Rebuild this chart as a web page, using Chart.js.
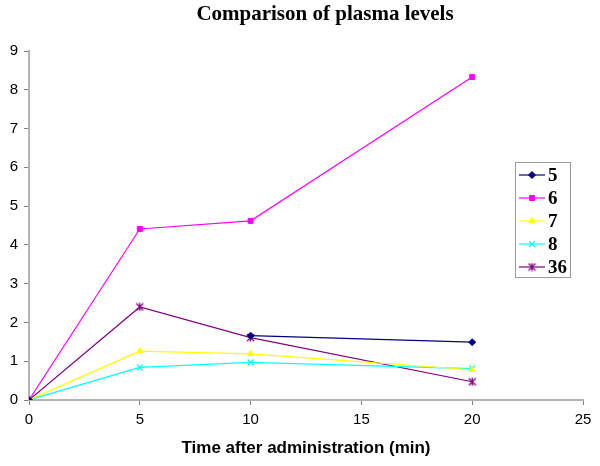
<!DOCTYPE html>
<html>
<head>
<meta charset="utf-8">
<script src="https://cdn.jsdelivr.net/npm/chart.js@4/dist/chart.umd.min.js"></script>
<style>
html,body{margin:0;padding:0;background:#fff;}
#wrap{width:600px;height:466px;position:relative;}
</style>
</head>
<body>
<div id="wrap"><canvas id="c" width="600" height="466"></canvas></div>
<script>
const times = [0, 5, 10, 20];
const seriesNames = ["5", "6", "7", "8", "36"];
const s5 = [0, null, 1.66, 1.49];
const s6 = [0, 4.41, 4.62, 8.33];
const s7 = [0, 1.26, 1.19, 0.78];
const s8 = [0, 0.84, 0.97, 0.81];
const s36 = [0, 2.40, 1.61, 0.47];
const xTicks = [0, 5, 10, 15, 20, 25];
const yTicks = [0, 1, 2, 3, 4, 5, 6, 7, 8, 9];
const chartTitle = 'Comparison of plasma levels';
const xTitle = 'Time after administration (min)';

const colors = ["#000080", "#FF00FF", "#FFFF00", "#00FFFF", "#800080"];

// Excel-style asterisk marker (x plus vertical bar)
function asteriskMarker(color){
  const c = document.createElement('canvas');
  c.width = 9; c.height = 9;
  const g = c.getContext('2d');
  g.strokeStyle = color; g.lineWidth = 1.3;
  g.beginPath();
  g.moveTo(1,1); g.lineTo(8,8);
  g.moveTo(8,1); g.lineTo(1,8);
  g.moveTo(4.5,0.5); g.lineTo(4.5,8.5);
  g.stroke();
  return c;
}

const styles = ["rectRot", "rect", "triangle", "crossRot", asteriskMarker(colors[4])];
const radii = [3.5, 3.5, 3.5, 4, 4.5];
const allSeries = [s5, s6, s7, s8, s36];

function pts(arr){ return times.map((t,i)=>({x:t, y:arr[i]})); }

const datasets = allSeries.map((arr,i)=>({
  label: seriesNames[i],
  data: pts(arr),
  borderColor: colors[i],
  backgroundColor: colors[i],
  borderWidth: 1.2,
  pointStyle: styles[i],
  pointRadius: radii[i],
  pointBorderWidth: styles[i]==="crossRot" ? 1.3 : 1,
  spanGaps: false,
  tension: 0
}));

const titlePlugin = {
  id: 'customTitle',
  afterDraw(chart){
    const ctx = chart.ctx;
    ctx.save();
    ctx.fillStyle = '#000';
    ctx.font = 'bold 21px "Liberation Serif", "Times New Roman", serif';
    ctx.textAlign = 'center';
    ctx.textBaseline = 'middle';
    ctx.fillText(chartTitle, 325, 15);
    ctx.restore();
  }
};

const legendPlugin = {
  id: 'customLegend',
  afterDraw(chart){
    const ctx = chart.ctx;
    const bx = 515, by = 162, bw = 55, bh = 115;
    ctx.save();
    ctx.fillStyle = '#fff';
    ctx.fillRect(bx, by, bw, bh);
    ctx.strokeStyle = '#9a9a9a';
    ctx.lineWidth = 1;
    ctx.strokeRect(bx+0.5, by+0.5, bw, bh);
    chart.data.datasets.forEach((ds, i) => {
      const y = 175 + i*23;
      ctx.strokeStyle = ds.borderColor;
      ctx.lineWidth = 1.2;
      ctx.beginPath();
      ctx.moveTo(519, y); ctx.lineTo(545, y);
      ctx.stroke();
      ctx.fillStyle = ds.backgroundColor;
      ctx.strokeStyle = ds.borderColor;
      ctx.lineWidth = ds.pointBorderWidth;
      Chart.helpers.drawPoint(ctx, {pointStyle: ds.pointStyle, radius: ds.pointRadius, rotation: 0, borderWidth: ds.pointBorderWidth}, 532, y);
      ctx.fillStyle = '#000';
      ctx.font = 'bold 19px "Liberation Serif", "Times New Roman", serif';
      ctx.textBaseline = 'middle';
      ctx.textAlign = 'left';
      ctx.fillText(ds.label, 548, y + 1);
    });
    ctx.restore();
  }
};

new Chart(document.getElementById('c'), {
  type: 'line',
  data: { datasets },
  plugins: [titlePlugin, legendPlugin],
  options: {
    responsive: false,
    animation: false,
    layout: { padding: { left: 0, right: 17, top: 51, bottom: 0 } },
    plugins: {
      legend: { display: false },
      tooltip: { enabled: false },
      title: { display: false }
    },
    scales: {
      x: {
        type: 'linear',
        min: 0, max: 25,
        afterBuildTicks(scale){ scale.ticks = xTicks.map(v=>({value:v})); },
        afterFit(scale){ scale.height = 66; },
        grid: { display: true, drawOnChartArea: false, drawTicks: true, tickLength: 5, color: '#808080' },
        border: { display: true, color: '#b4b4b4', width: 2 },
        ticks: { color: '#000', padding: 6, maxRotation: 0,
          font: { family: '"Liberation Sans", Arial, sans-serif', size: 15 } },
        title: { display: true, text: xTitle, color: '#000',
          font: { family: '"Liberation Sans", Arial, sans-serif', size: 17, weight: 'bold' },
          padding: { top: 0, bottom: 7 } }
      },
      y: {
        min: 0, max: 9,
        afterBuildTicks(scale){ scale.ticks = yTicks.map(v=>({value:v})); },
        afterFit(scale){ scale.width = 29; },
        grid: { display: true, drawOnChartArea: false, drawTicks: true, tickLength: 5, color: '#808080' },
        border: { display: true, color: '#b4b4b4', width: 2 },
        ticks: { color: '#000', padding: 6,
          font: { family: '"Liberation Sans", Arial, sans-serif', size: 15 } }
      }
    }
  }
});
</script>
</body>
</html>
